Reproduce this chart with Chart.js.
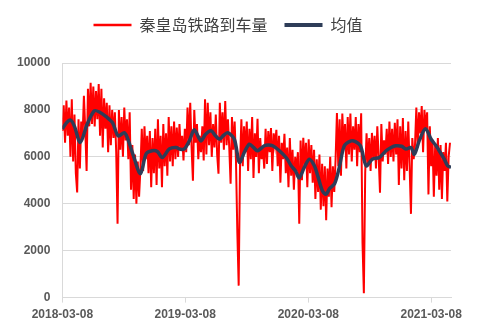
<!DOCTYPE html>
<html>
<head>
<meta charset="utf-8">
<script src="https://cdn.jsdelivr.net/npm/chart.js@4.4.1/dist/chart.umd.min.js"></script>
<style>
  html, body { margin: 0; padding: 0; background: #ffffff; }
  #wrap { width: 500px; height: 333px; }
</style>
</head>
<body>
<div id="wrap"><canvas id="chart" width="500" height="333"></canvas></div>
<script>
// series names
const seriesNames = ['秦皇岛铁路到车量', '均值'];

// x axis: days since 2018-03-08
const xTickDays = [0, 365, 731, 1096];
const xTickLabels = ['2018-03-08', '2019-03-08', '2020-03-08', '2021-03-08'];

const sampleStep = 4;
const arrivals = [
  7100, 8200, 6600, 8400, 6900, 8100, 6000, 8450,
  5800, 7800, 5300, 4480, 7600, 5500, 7500,
  6800, 8600, 7200, 5400, 8900, 7300, 9160,
  7400, 9000, 7300, 8800, 7600, 9100,
  6900, 8900, 6400, 8500, 7200, 8300, 6200,
  8200, 6500, 8000, 6800, 7900, 6200, 3150,
  8000, 6300, 7700, 6000, 8100, 6700, 7600, 5900, 7900,
  4600, 6500, 4200, 6100, 4000, 5800, 4300, 5500,
  7200, 5400, 7300, 5900, 6900, 5300,
  7100, 4700, 6800, 5300, 7200, 4800,
  7600, 5500, 6900, 4700, 7400, 5600, 7000, 5200,
  7700, 5800, 7300, 5600, 7500, 5900, 7250,
  6000, 7400, 6300, 6900, 5850, 7200, 6200,
  8100, 6500, 8300, 6400, 4980, 8000, 6600,
  7400, 5900, 6900, 6200, 7300, 5850,
  8450, 6100, 8300, 6500,
  7900, 6000, 7400, 6400, 7800, 6100, 5280,
  8300, 6600, 7900, 6300, 8380, 6500,
  7600, 6400, 4850, 7700, 6300,
  7500, 5800, 2780, 510,
  5700, 7600, 5600, 7300, 6200, 7500,
  5400, 7200, 5900, 7700, 5100, 7000, 6000,
  7620, 5300, 6800, 5900, 6400, 5500,
  7200, 5700, 7100, 6200, 7230, 5400, 7000, 6500, 7150,
  5600, 6900, 4900, 6600, 5900, 6980, 5300, 6400,
  4700, 6800, 5200, 6300, 4600, 6000, 5400,
  6200, 3150,
  6700, 5000, 6810, 5600, 6600, 4700, 6750, 5300, 6500,
  4900, 6300, 4200, 5900, 4500, 6100, 3750, 5700,
  3900, 5600, 3300,
  5500, 4300, 6000, 3850, 5600, 4500, 5900,
  7870, 5600, 7600, 5200, 7850, 6400, 7400, 5500, 7700, 6100,
  7850, 5800, 7300, 6300, 7700, 5600, 7400, 6200, 7860,
  2350, 185,
  5300, 7000, 5700, 6800, 5400, 7020, 5900, 6900, 5500,
  7300, 6000, 4470, 7400, 5800, 6700, 6100, 7200,
  5700, 7500, 6000, 7200, 5800, 7450, 6100,
  7600, 4800, 7300, 5500, 7650, 5000, 7100, 5400, 7500,
  5600, 3570,
  6800, 5900, 6500,
  8100, 6400, 7900, 7000, 8170, 6200, 8000, 7200,
  7900, 4400, 7300, 5600,
  6700, 4300, 6500, 5200, 6800, 4600,
  6500, 4200, 6200, 5400, 6600, 4100, 6000,
  6600
];

// moving average line (day, value)
const avgDays = [
  0, 12, 24, 36, 53, 74, 95, 110, 131, 149, 166, 184, 193, 211, 232, 249, 267,
  282, 297, 318, 338, 351, 363, 378, 392, 412, 425, 442, 455, 467, 478, 491,
  511, 526, 541, 556, 568, 580, 600, 612, 625, 645, 666, 680, 693, 704, 719,
  734, 749, 759, 773, 784, 794, 809, 823, 838, 858, 871, 886, 903, 921, 942,
  962, 977, 991, 1008, 1021, 1036, 1046, 1061, 1079, 1096, 1109, 1120, 1135,
  1145, 1155
];
const avgValues = [
  7190, 7450, 7570, 7300, 6610, 7400, 7960, 7910, 7700, 7460, 6890, 7030, 6820, 6050, 5280, 6130, 6260,
  6230, 5970, 6340, 6400, 6320, 6340, 6700, 7150, 6680, 6950, 7110, 6900, 6750, 6900, 7030,
  6750, 5760, 6200, 6540, 6400, 6260, 6470, 6500, 6470, 6260, 5950, 5620, 5400, 5100, 5550,
  5900, 5620, 5190, 4550, 4410, 4650, 4850, 5550, 6470, 6680, 6650, 6470, 5620, 5900, 5970,
  6260, 6400, 6470, 6450, 6330, 6400, 6110, 6700, 7200, 6750, 6500, 6260, 5900,
  5620, 5550
];

const tickFont = { family: 'Liberation Sans', size: 12, weight: 'bold' };
const gridColor = '#d9d9d9';

// extra room between the legend and the plot
const legendGap = {
  id: 'legendGap',
  beforeLayout(chart) {
    const legend = chart.legend;
    if (!legend || legend._gapPatched) return;
    const fit = legend.fit;
    legend.fit = function () {
      fit.call(this);
      this.height += 20;
    };
    legend._gapPatched = true;
  },
};

new Chart(document.getElementById('chart').getContext('2d'), {
  type: 'line',
  data: {
    datasets: [
      {
        label: seriesNames[0],
        data: arrivals.map((v, i) => ({ x: i * sampleStep, y: v })),
        borderColor: '#ff0000',
        backgroundColor: '#ff0000',
        borderWidth: 2,
        pointRadius: 0,
        tension: 0,
        order: 1,
      },
      {
        label: seriesNames[1],
        data: avgDays.map((d, i) => ({ x: d, y: avgValues[i] })),
        borderColor: '#2e3d58',
        backgroundColor: '#2e3d58',
        borderWidth: 3.5,
        pointRadius: 0,
        tension: 0.3,
        order: 0,
      },
    ],
  },
  plugins: [legendGap],
  options: {
    responsive: false,
    animation: false,
    layout: { padding: { left: 5, right: 49, top: 0, bottom: 6 } },
    plugins: {
      tooltip: { enabled: false },
      legend: {
        position: 'top',
        labels: {
          usePointStyle: true,
          pointStyle: 'line',
          pointStyleWidth: 38,
          boxHeight: 16,
          padding: 17,
          color: '#404040',
          font: { family: 'Noto Sans CJK SC', size: 16 },
          sort: (a, b) => a.datasetIndex - b.datasetIndex,
          generateLabels: (chart) => {
            const items = Chart.defaults.plugins.legend.labels.generateLabels(chart);
            items.forEach((it) => { it.lineWidth = it.datasetIndex === 0 ? 2.5 : 4; });
            return items;
          },
        },
      },
    },
    scales: {
      x: {
        type: 'linear',
        min: 0,
        max: 1155,
        afterBuildTicks: (axis) => { axis.ticks = xTickDays.map((v) => ({ value: v })); },
        ticks: {
          autoSkip: false,
          maxRotation: 0,
          padding: 5,
          color: '#595959',
          font: tickFont,
          callback: (v) => { const k = xTickDays.indexOf(v); return k >= 0 ? xTickLabels[k] : ''; },
        },
        grid: { drawOnChartArea: false, drawTicks: true, tickLength: 5, color: gridColor },
        border: { color: gridColor },
      },
      y: {
        min: 0,
        max: 10000,
        ticks: { stepSize: 2000, padding: 12, color: '#595959', font: tickFont, callback: (v) => String(v) },
        grid: { color: gridColor, drawTicks: false },
        border: { display: true, color: gridColor },
      },
    },
  },
});
</script>
</body>
</html>
